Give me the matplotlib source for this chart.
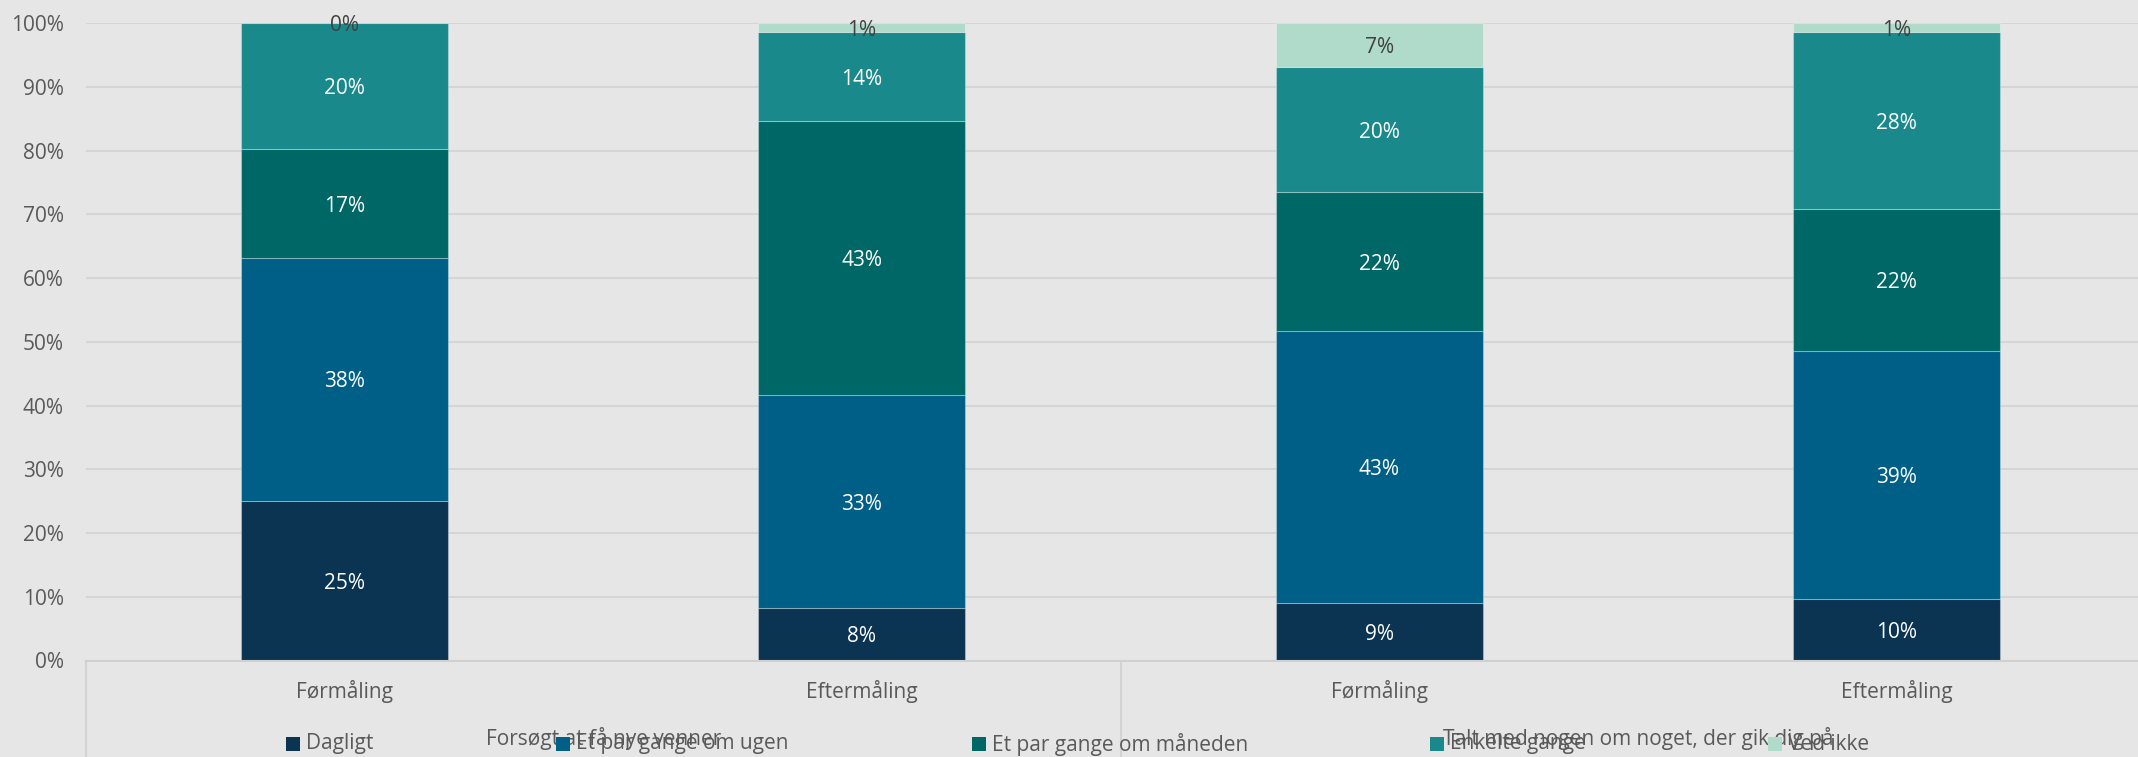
import numpy as np
import matplotlib.pyplot as plt
from matplotlib.patches import Rectangle

# Survey answers (percent) per measurement
categories = ["Førmåling", "Eftermåling", "Førmåling", "Eftermåling"]
groups = ["Forsøgt at få nye venner", "Talt med nogen om noget, der gik dig på"]
series_names = ["Dagligt", "Et par gange om ugen", "Et par gange om måneden",
                "Enkelte gange", "Ved ikke"]

dagligt = [25.1, 8.2, 9.1, 9.6]
par_uge = [38.0, 33.4, 42.6, 38.9]
par_maaned = [17.2, 43.0, 21.8, 22.3]
enkelte = [19.7, 14.0, 19.6, 27.8]
ved_ikke = [0.0, 1.4, 6.9, 1.4]

yticks = np.arange(0, 101, 10)

colors = ["#0B3352", "#005F86", "#006767", "#1A898B", "#B0DBCB"]
label_colors = ["white", "white", "white", "white", "#404040"]
bg = "#E6E6E6"
text_grey = "#595959"

W, H = 2138, 757
plt.rcParams['font.family'] = ['Open Sans', 'DejaVu Sans']

fig = plt.figure(figsize=(W / 100, H / 100), dpi=100)
fig.patch.set_facecolor(bg)

# plot area in pixels: left 86, right 2155 (runs past the edge), top 23, bottom 660
ax = fig.add_axes([86 / W, (H - 660.5) / H, (2155 - 86) / W, (660.5 - 23.2) / H])
ax.set_facecolor(bg)

x = np.arange(len(categories))
bottom = np.zeros(len(categories))
for vals, name, col, lcol in zip([dagligt, par_uge, par_maaned, enkelte, ved_ikke],
                                 series_names, colors, label_colors):
    vals = np.array(vals)
    ax.bar(x, vals, 0.4, bottom=bottom, color=col, label=name,
           edgecolor=(1, 1, 1, 0.3), linewidth=0.8, zorder=2)
    for xi, b, v in zip(x, bottom, vals):
        ax.text(xi, b + v / 2, f"{v:.0f}%", ha="center", va="center_baseline",
                color=lcol, fontsize=15, zorder=3)
    bottom += vals

ax.set_xlim(-0.5, len(categories) - 0.5)
ax.set_ylim(0, 100)
ax.set_yticks(yticks)
ax.set_yticklabels([f"{t}%" for t in yticks])
ax.set_xticks(x)
ax.set_xticklabels(categories)
ax.tick_params(axis="y", length=0, pad=16, labelsize=15, labelcolor=text_grey)
ax.tick_params(axis="x", length=0, pad=14, labelsize=15, labelcolor=text_grey)
ax.yaxis.grid(True, color="#D5D5D5", linewidth=1.5, zorder=0)
ax.set_axisbelow(True)
for s in ["top", "right", "left"]:
    ax.spines[s].set_visible(False)
ax.spines["bottom"].set_color("#D0D0D0")
ax.spines["bottom"].set_linewidth(1.5)

# group separators of the two-level category axis
for xs in [-0.5, 1.5, 3.5]:
    ax.plot([xs, xs], [0, -15], color="#D3D3D3", lw=1.5, clip_on=False, zorder=1)

# group labels under each pair of bars
group_y = -(738 - 660.5) / (660.5 - 23.2)
for gi, g in enumerate(groups):
    ax.text(2 * gi + 0.5, group_y, g, transform=ax.get_xaxis_transform(),
            ha="center", va="center", fontsize=15, color=text_grey)

# legend along the bottom edge
legend_x = [286, 556, 972, 1430, 1768]
for lx, name, col in zip(legend_x, series_names, colors):
    fig.patches.append(Rectangle((lx / W, (H - 751) / H), 14 / W, 14 / H,
                                 transform=fig.transFigure, facecolor=col,
                                 edgecolor="none"))
    fig.text((lx + 20) / W, (H - 744) / H, name, ha="left", va="center",
             fontsize=15, color=text_grey)

fig.savefig("out.png", dpi=100, facecolor=bg)
